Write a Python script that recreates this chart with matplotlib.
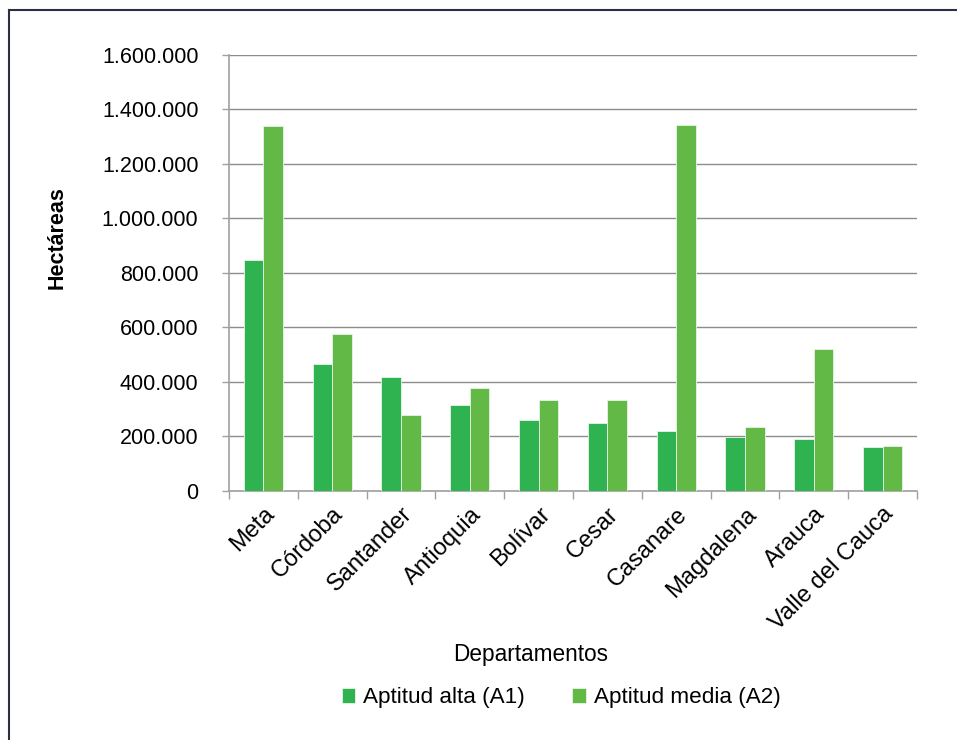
import numpy as np
import matplotlib.pyplot as plt
from matplotlib.ticker import FuncFormatter, FixedLocator
from matplotlib.lines import Line2D

plt.rcParams['font.family'] = ['Liberation Sans', 'DejaVu Sans']

departamentos = ['Meta', 'Córdoba', 'Santander', 'Antioquia', 'Bolívar',
                 'Cesar', 'Casanare', 'Magdalena', 'Arauca', 'Valle del Cauca']
aptitud_alta = [846000, 465000, 417000, 315000, 258000,
                248000, 220000, 197000, 191000, 159000]
aptitud_media = [1340000, 574000, 279000, 378000, 332000,
                 334000, 1342000, 233000, 522000, 163000]

c_alta = '#2eb350'
c_media = '#63b946'

fig = plt.figure(figsize=(9.57, 7.4), dpi=100)
ax = fig.add_axes([229/957, 1-490.7/740, (917-229)/957, (490.7-55)/740])

x = np.arange(len(departamentos))
w = 0.285
ax.bar(x - w/2, aptitud_alta, w, color=c_alta, edgecolor='#e8f5e8', linewidth=0.6,
       label='Aptitud alta (A1)', zorder=3)
ax.bar(x + w/2, aptitud_media, w, color=c_media, edgecolor='#e8f5e8', linewidth=0.6,
       label='Aptitud media (A2)', zorder=3)

ax.set_xlim(-0.5, len(departamentos) - 0.5)
ax.set_ylim(0, 1600000)
ax.set_yticks(np.arange(0, 1600001, 200000))
ax.yaxis.set_major_formatter(FuncFormatter(lambda v, p: f'{int(v):,}'.replace(',', '.')))
ax.grid(axis='y', color='#8c8c8c', linewidth=1, zorder=0)

ax.set_xticks(x)
ax.set_xticklabels(departamentos, rotation=45, ha='right', rotation_mode='anchor', fontsize=17)
ax.xaxis.set_minor_locator(FixedLocator(np.arange(-0.5, len(departamentos), 1)))
ax.tick_params(axis='x', which='major', length=0, pad=9)
ax.tick_params(axis='x', which='minor', length=6, color='#a0a0a0', width=1)
ax.tick_params(axis='y', length=5, color='#a0a0a0', width=1, pad=17, labelsize=15.5)

for s in ['top', 'right']:
    ax.spines[s].set_visible(False)
for s in ['left', 'bottom']:
    ax.spines[s].set_color('#a0a0a0')
    ax.spines[s].set_linewidth(1.2)

fig.text(57/957, 1-238/740, 'Hectáreas', rotation=90, ha='center', va='center',
         fontsize=15.5, fontweight='bold')
fig.text(531/957, 1-654/740, 'Departamentos', ha='center', va='center', fontsize=16.3)

ax.legend(loc='center', bbox_to_anchor=(561/957, 1-698/740), bbox_transform=fig.transFigure,
          ncol=2, frameon=False, fontsize=16.2, handlelength=0.6, handleheight=0.6,
          handletextpad=0.35, columnspacing=2.1)

# frame lines along the top and left edges
fig.add_artist(Line2D([8.5/957, 1], [1-9.5/740, 1-9.5/740], color='#2b2f45', linewidth=1.5))
fig.add_artist(Line2D([8.5/957, 8.5/957], [0, 1-9.5/740], color='#2b2f45', linewidth=1.5))

fig.savefig('out.png', dpi=100)
